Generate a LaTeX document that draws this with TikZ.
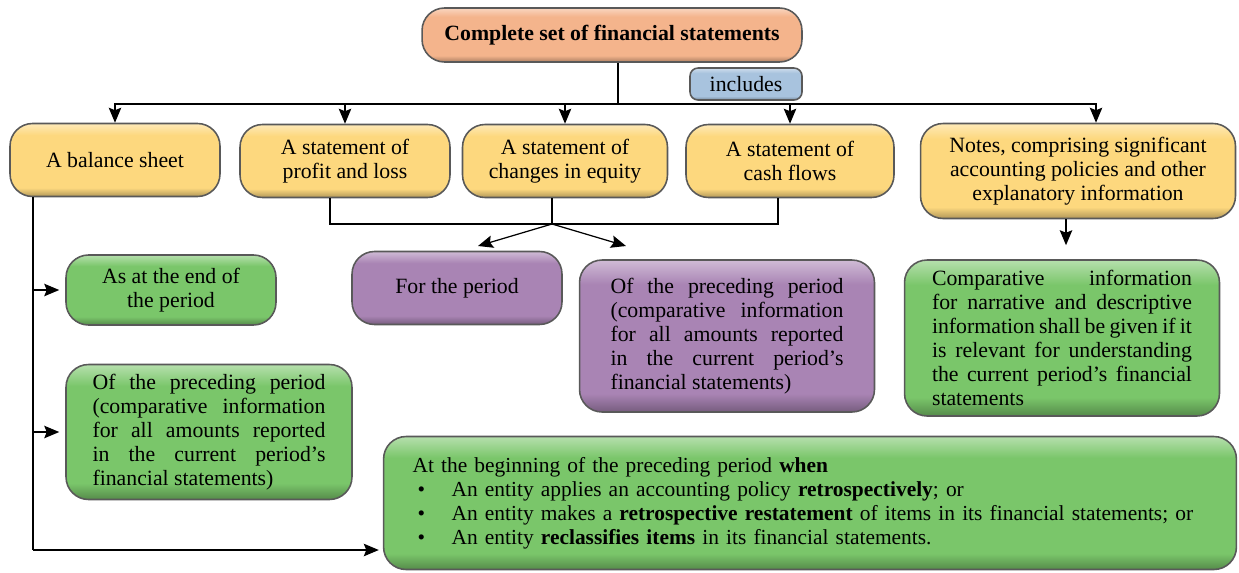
\documentclass[tikz,border=0pt]{standalone}
\usepackage{fontspec}
\setmainfont{Liberation Serif}
\usetikzlibrary{arrows.meta}
\definecolor{yel}{RGB}{253,216,126}
\definecolor{grn}{RGB}{122,198,106}
\definecolor{pur}{RGB}{169,132,180}
\definecolor{org}{RGB}{244,180,140}
\definecolor{blu}{RGB}{168,195,222}

% glossy fill: light rim on top, darker rim at the bottom
\pgfdeclareverticalshading[boxlo,boxmid,boxhi]{glossy}{100bp}{%
  color(0bp)=(boxlo); color(25bp)=(boxlo); color(31bp)=(boxmid);
  color(67bp)=(boxmid); color(75bp)=(boxhi); color(100bp)=(boxhi)}

\newcommand{\itembul}{\hspace*{0.1cm}\makebox[0.68cm][l]{\textbullet}}

\begin{document}
\begin{tikzpicture}[x=0.02cm, y=-0.02cm,
  box/.style={rounded corners=0.45cm, draw=black!65, line width=0.9pt,
    shade, shading=glossy, inner sep=2pt, align=center,
    font=\fontsize{12.4}{13.6}\selectfont,
    /utils/exec={\colorlet{boxmid}{#1}\colorlet{boxhi}{#1!55!white}\colorlet{boxlo}{#1!70!black}}},
  ybox/.style={box=yel, minimum height=1.46cm},
  gbox/.style={box=grn},
  pbox/.style={box=pur},
  line/.style={line width=0.7pt},
  arr/.style={line, -{Stealth[length=3mm,width=2.5mm,inset=0.5mm]}}]

\useasboundingbox (0,0) rectangle (1239,572);

% Top of the tree
\node[box=org, minimum width=7.6cm, minimum height=1.08cm] (top) at (612,35)
    {\textbf{Complete set of financial statements}};
\node[box=blu, rounded corners=0.16cm, minimum width=2.24cm, minimum height=0.64cm] (inc) at (746,84)
    {includes};

% The five components
\node[ybox, minimum width=4.2cm]  (bs) at (115,160) {A balance sheet};
\node[ybox, minimum width=4.2cm]  (pl) at (345,161) {A statement of\\profit and loss};
\node[ybox, minimum width=4.1cm]  (ce) at (565,161) {A statement of\\changes in equity};
\node[ybox, minimum width=4.16cm] (cf) at (790,161) {A statement of\\cash flows};
\node[ybox, minimum width=6.3cm, minimum height=1.9cm] (nt) at (1078,171)
    {Notes, comprising significant\\accounting policies and other\\explanatory information};

% Periods
\node[gbox, minimum width=4.2cm, minimum height=1.4cm] (end) at (171,290) {As at the end of\\the period};
\node[gbox, minimum width=5.72cm, minimum height=2.7cm, text width=4.66cm, align=justify] (prv) at (209,432)
    {Of the preceding period\linebreak (comparative information\linebreak for all amounts reported\linebreak in the current period's\linebreak financial statements)};
\node[pbox, minimum width=4.2cm, minimum height=1.46cm] (fp) at (457,288) {For the period};
\node[pbox, minimum width=5.9cm, minimum height=3.04cm, text width=4.66cm, align=justify] (pp) at (727,336)
    {Of the preceding period\linebreak (comparative information\linebreak for all amounts reported\linebreak in the current period's\linebreak financial statements)};
\node[gbox, minimum width=6.3cm, minimum height=3.12cm, text width=5.2cm, align=justify] (cmp) at (1062,338)
    {Comparative information\linebreak for narrative and descriptive\linebreak information shall be given if it\linebreak is relevant for understanding\linebreak the current period's financial\linebreak statements};
\node[gbox, minimum width=17.06cm, minimum height=2.66cm, text width=15.9cm, align=left,
      font=\fontsize{12.2}{13.6}\selectfont] (beg) at (810,503)
    {At the beginning of the preceding period \textbf{when}\\
     \itembul An entity applies an accounting policy \textbf{retrospectively}; or\\
     \itembul An entity makes a \textbf{retrospective restatement} of items in its financial statements; or\\
     \itembul An entity \textbf{reclassifies items} in its financial statements.};

% Connectors from the top box
\coordinate (hub) at (618,104);
\draw[line] (top.south -| hub) -- (hub);
\foreach \n in {bs,pl,ce,cf}
  \draw[arr] (hub) -| (\n.north);
\draw[arr] (hub) -| ([xshift=0.36cm]nt.north);

% Income, equity and cash flow statements
\coordinate (split) at (552,224);
\coordinate (fpin) at (478,246);
\coordinate (ppin) at (626,246);
\draw[line] ([xshift=-0.3cm]pl.south) |- (split);
\draw[line] ([xshift=-0.24cm]cf.south) |- (split);
\draw[line] (ce.south -| split) -- (split);
\draw[arr] (split) -- (fpin);
\draw[arr] (split) -- (ppin);

% Balance sheet
\coordinate (spine) at (33,550);
\draw[line] (bs.south -| spine) -- (spine);
\draw[arr] (spine |- end.west) -- ([xshift=-0.12cm]end.west);
\draw[arr] (spine |- prv.west) -- ([xshift=-0.12cm]prv.west);
\draw[arr] (spine) -- ([xshift=-0.08cm]spine -| beg.west);

% Notes
\draw[arr, shorten >=0.28cm] ([xshift=0.08cm]cmp.north |- nt.south) -- ([xshift=0.08cm]cmp.north);

\end{tikzpicture}
\end{document}
